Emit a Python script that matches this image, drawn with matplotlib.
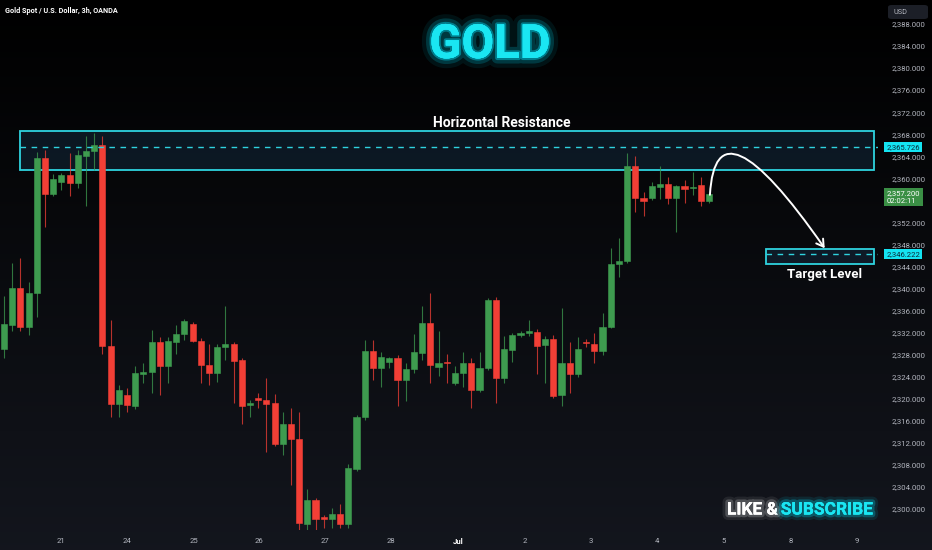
import numpy as np
import matplotlib.pyplot as plt
import matplotlib.patheffects as pe
from matplotlib.patches import Rectangle, FancyArrowPatch, FancyBboxPatch
from matplotlib.path import Path
from matplotlib.ticker import FuncFormatter

# Candles (3h)
opens = [2329.0, 2333.4, 2340.0, 2333.0, 2339.1, 2363.7, 2357.1, 2359.3, 2360.6, 2359.1,
         2364.1, 2365.0, 2366.0, 2329.6, 2319.0, 2320.7, 2318.7, 2324.4, 2324.8, 2330.3,
         2325.9, 2330.3, 2331.7, 2333.6, 2330.5, 2326.2, 2324.7, 2329.3, 2329.9, 2327.0,
         2318.9, 2320.0, 2319.8, 2319.2, 2311.8, 2315.4, 2312.7, 2297.3, 2301.6, 2298.5,
         2298.1, 2299.0, 2297.2, 2307.2, 2316.7, 2328.7, 2325.5, 2326.7, 2327.4, 2323.4,
         2325.4, 2328.3, 2333.7, 2325.8, 2326.7, 2322.9, 2324.7, 2326.4, 2321.6, 2325.6,
         2337.9, 2323.7, 2328.9, 2331.5, 2332.0, 2332.1, 2329.7, 2330.8, 2320.6, 2326.4,
         2324.4, 2330.2, 2330.0, 2328.6, 2333.1, 2344.4, 2345.0, 2362.2, 2356.5, 2356.5,
         2358.5, 2359.0, 2356.5, 2358.6, 2358.2, 2358.7, 2355.9]
highs = [2338.6, 2344.6, 2345.5, 2341.1, 2364.8, 2365.1, 2360.7, 2360.9, 2364.6, 2365.1,
         2367.7, 2368.3, 2367.7, 2334.3, 2322.5, 2321.9, 2325.9, 2326.5, 2332.5, 2331.2,
         2331.2, 2333.4, 2334.4, 2334.0, 2331.0, 2329.9, 2329.9, 2336.8, 2330.2, 2327.4,
         2319.8, 2321.1, 2323.7, 2320.8, 2317.5, 2318.3, 2317.6, 2303.7, 2302.0, 2298.9,
         2300.1, 2300.9, 2308.1, 2317.0, 2330.6, 2330.6, 2328.4, 2327.6, 2327.9, 2326.4,
         2331.7, 2336.8, 2339.2, 2332.2, 2328.2, 2325.9, 2328.5, 2327.3, 2328.5, 2338.2,
         2338.5, 2331.4, 2332.0, 2332.3, 2334.3, 2332.6, 2331.4, 2331.6, 2336.4, 2330.3,
         2331.2, 2330.9, 2331.9, 2335.5, 2347.3, 2349.1, 2364.6, 2364.0, 2357.6, 2359.4,
         2362.2, 2360.2, 2358.8, 2359.7, 2361.2, 2360.3, 2357.4]
lows = [2327.4, 2332.2, 2332.3, 2331.6, 2334.9, 2351.1, 2356.7, 2357.9, 2356.8, 2358.2,
        2355.0, 2361.5, 2328.2, 2316.7, 2316.7, 2317.6, 2318.1, 2322.8, 2321.1, 2320.7,
        2322.8, 2328.2, 2330.6, 2330.2, 2322.8, 2322.5, 2323.1, 2327.0, 2319.2, 2315.4,
        2316.7, 2318.3, 2310.4, 2311.5, 2309.8, 2304.3, 2296.2, 2296.2, 2296.2, 2296.5,
        2296.5, 2296.5, 2296.5, 2306.8, 2316.2, 2323.4, 2322.1, 2325.5, 2318.7, 2319.5,
        2324.6, 2327.0, 2322.8, 2324.1, 2322.8, 2322.5, 2322.2, 2318.4, 2321.2, 2325.2,
        2319.2, 2322.8, 2326.7, 2331.2, 2331.3, 2324.5, 2322.8, 2320.1, 2318.7, 2321.0,
        2323.9, 2329.4, 2326.5, 2327.9, 2332.8, 2342.1, 2344.7, 2353.9, 2353.2, 2356.0,
        2356.2, 2355.3, 2350.3, 2355.5, 2357.0, 2355.0, 2355.6]
closes = [2333.6, 2340.0, 2333.0, 2339.1, 2363.7, 2357.1, 2359.8, 2360.6, 2359.1, 2364.2,
          2365.0, 2366.0, 2329.6, 2319.0, 2321.6, 2318.8, 2324.6, 2324.8, 2330.3, 2325.9,
          2330.5, 2331.7, 2334.1, 2330.5, 2326.2, 2324.7, 2329.3, 2329.9, 2326.8, 2318.7,
          2319.3, 2319.8, 2319.1, 2311.8, 2315.4, 2312.7, 2297.4, 2301.6, 2298.1, 2298.1,
          2299.0, 2297.2, 2307.4, 2316.7, 2328.7, 2325.6, 2327.5, 2327.4, 2323.4, 2325.4,
          2328.5, 2333.7, 2326.1, 2326.5, 2326.4, 2324.7, 2326.4, 2321.6, 2325.6, 2337.9,
          2323.7, 2329.0, 2331.5, 2332.0, 2332.1, 2329.6, 2330.9, 2320.4, 2326.4, 2324.4,
          2329.1, 2330.1, 2328.6, 2333.1, 2344.4, 2345.0, 2362.2, 2356.5, 2355.8, 2358.6,
          2359.0, 2356.5, 2358.6, 2358.1, 2358.5, 2355.9, 2357.2]

# x axis labels (bar index where each day starts)
day_pos = [6.95, 15.0, 23.2, 31.1, 39.1, 47.2, 55.4, 63.5, 71.6, 79.6, 87.8, 95.9, 104.0]
day_labels = ['21', '24', '25', '26', '27', '28', 'Jul', '2', '3', '4', '5', '8', '9']

# price scale ticks (2,356 is hidden under the last-price tag)
price_ticks = [2300, 2304, 2308, 2312, 2316, 2320, 2324, 2328, 2332, 2336, 2340, 2344,
               2348, 2352, 2360, 2364, 2368, 2372, 2376, 2380, 2384, 2388]

# drawn levels
resist_top, resist_bot, resist_line = 2368.5, 2361.5, 2365.726
target_top, target_bot, target_line = 2347.2, 2344.4, 2346.222
last_price = 2357.200
countdown = '02:02:11'

GREEN = '#3e9b4f'
RED = '#f23f36'
CYAN = '#2fd3df'
LABEL_CYAN = '#14e4f2'
TXT = '#b2b5be'

fig = plt.figure(figsize=(9.32, 5.5), dpi=100)
fig.patch.set_facecolor('#000000')

# background gradient (black at top, dark navy at bottom)
bg = fig.add_axes([0, 0, 1, 1], zorder=0)
grad = np.linspace(0, 1, 256).reshape(-1, 1)
top = np.array([0.0, 0.0, 0.0])
bot = np.array([0.075, 0.085, 0.115])
img = top + (bot - top) * grad[..., None]
bg.imshow(img, aspect='auto', extent=[0, 1, 0, 1], origin='upper')
bg.axis('off')

ax = fig.add_axes([0, 20 / 550, 878 / 932, 530 / 550], zorder=1)
ax.patch.set_alpha(0)
ax.set_xlim(-0.49, 106.6)
ax.set_ylim(2296.17, 2392.36)

idx = np.arange(len(closes))
o = np.array(opens)
c = np.array(closes)
up = c >= o
cols = np.where(up, GREEN, RED)

ax.vlines(idx, lows, highs, colors=cols, linewidth=0.8, alpha=0.75, zorder=3)
body_bot = np.minimum(o, c)
body_h = np.maximum(np.abs(c - o), 0.25)
ax.bar(idx, body_h, bottom=body_bot, width=0.75, color=cols, edgecolor=cols,
       linewidth=0.4, zorder=4)

# horizontal resistance zone
box_left, box_right = 1.95, 106.1
ax.add_patch(Rectangle((box_left, resist_bot), box_right - box_left, resist_top - resist_bot,
                       facecolor=(0.12, 0.28, 0.42, 0.28), edgecolor=CYAN, linewidth=1.3, zorder=2))
ax.plot([box_left, 106.6], [resist_line, resist_line], color=CYAN, lw=1.0, ls=(0, (4, 4)), zorder=5)
ax.text(60.7, resist_top + 0.25, 'Horizontal Resistance',
        color='white', fontsize=10, fontfamily='Roboto', fontweight='bold',
        ha='center', va='bottom', zorder=6)

# target zone
tgt_left = 93.0
ax.add_patch(Rectangle((tgt_left, target_bot), box_right - tgt_left, target_top - target_bot,
                       facecolor=(0.12, 0.28, 0.42, 0.28), edgecolor=CYAN, linewidth=1.3, zorder=2))
ax.plot([tgt_left, 106.6], [target_line, target_line], color=CYAN, lw=1.0, ls=(0, (4, 4)), zorder=5)
ax.text(100.1, target_bot - 0.6, 'Target Level', color='white', fontsize=9.5,
        fontfamily='Roboto', fontweight='bold', ha='center', va='top', zorder=6)

# curved arrow from last candle toward target
p0 = (idx[-1] + 0.1, c[-1] - 0.2)
p1 = (86.8, 2375.7)
p2 = (100.1, target_top + 0.1)
arr = FancyArrowPatch(path=Path([p0, p1, p2], [Path.MOVETO, Path.CURVE3, Path.CURVE3]),
                      arrowstyle='->,head_length=5,head_width=3', color='white', lw=1.4, zorder=7)
ax.add_patch(arr)

# axes styling
for s in ax.spines.values():
    s.set_visible(False)
ax.yaxis.tick_right()
ax.set_yticks(price_ticks)
ax.yaxis.set_major_formatter(FuncFormatter(lambda v, p: f'{v:,.3f}'))
ax.tick_params(axis='y', length=0, pad=10, labelsize=5.6, labelcolor=TXT)
ax.set_xticks(day_pos)
ax.set_xticklabels(day_labels)
ax.tick_params(axis='x', length=0, pad=6, labelsize=5.6, labelcolor=TXT)
for lab in ax.get_xticklabels():
    lab.set_fontfamily('Roboto')
    if lab.get_text() == 'Jul':
        lab.set_color('white')
        lab.set_fontweight('bold')
for lab in ax.get_yticklabels():
    lab.set_fontfamily('Roboto')

# price labels on the scale
ax.text(1.0095, resist_line, f'{resist_line:,.3f}', transform=ax.get_yaxis_transform(),
        fontsize=5.5, fontfamily='Roboto', color='#0a2a3a', va='center', ha='left',
        bbox=dict(boxstyle='square,pad=0.25', facecolor=LABEL_CYAN, edgecolor='none'), zorder=8)
ax.text(1.0095, target_line, f'{target_line:,.3f}', transform=ax.get_yaxis_transform(),
        fontsize=5.5, fontfamily='Roboto', color='#0a2a3a', va='center', ha='left',
        bbox=dict(boxstyle='square,pad=0.25', facecolor=LABEL_CYAN, edgecolor='none'), zorder=8)
ax.text(1.0095, last_price - 0.6, f'{last_price:,.3f}\n{countdown}', transform=ax.get_yaxis_transform(),
        fontsize=5.5, fontfamily='Roboto', color='white', va='center', ha='left', linespacing=1.2,
        bbox=dict(boxstyle='square,pad=0.35', facecolor='#3a8f45', edgecolor='none'), zorder=8)

# header texts
fig.text(5 / 932, 1 - 11 / 550, 'Gold Spot / U.S. Dollar, 3h, OANDA', color='white',
         fontsize=5.2, fontfamily='Roboto', fontweight='bold', va='center', ha='left')
fig.patches.append(FancyBboxPatch((888 / 932, 1 - 19 / 550), 40 / 932, 14 / 550,
                                  boxstyle='round,pad=0,rounding_size=0.004',
                                  facecolor='#1c1f27', edgecolor='none',
                                  transform=fig.transFigure, zorder=2))
fig.text(893 / 932, 1 - 12 / 550, 'USD', color=TXT, fontsize=5.2, fontfamily='Roboto',
         va='center', ha='left', zorder=3)

narrow = ['Liberation Sans Narrow', 'Roboto', 'DejaVu Sans']
glow_c = [pe.withStroke(linewidth=14, foreground='#00e5ff', alpha=0.08),
          pe.withStroke(linewidth=8, foreground='#00e5ff', alpha=0.18),
          pe.withStroke(linewidth=3, foreground='#00e5ff', alpha=0.4), pe.Normal()]
fig.text(490 / 932, 1 - 45 / 550, 'GOLD', color='#1ae6f2', fontsize=34, family=narrow,
         fontweight='bold', ha='center', va='center', path_effects=glow_c)

glow_w = [pe.withStroke(linewidth=8, foreground='white', alpha=0.08),
          pe.withStroke(linewidth=4, foreground='white', alpha=0.2), pe.Normal()]
glow_s = [pe.withStroke(linewidth=8, foreground='#00e5ff', alpha=0.1),
          pe.withStroke(linewidth=4, foreground='#00e5ff', alpha=0.25), pe.Normal()]
fig.text(778 / 932, 1 - 510 / 550, 'LIKE &', color='white', fontsize=12.5, family=narrow,
         fontweight='bold', ha='right', va='center', path_effects=glow_w)
fig.text(873 / 932, 1 - 510 / 550, 'SUBSCRIBE', color='#1ae6f2', fontsize=12.5, family=narrow,
         fontweight='bold', ha='right', va='center', path_effects=glow_s)

fig.savefig('out.png', dpi=100, facecolor=fig.get_facecolor())
